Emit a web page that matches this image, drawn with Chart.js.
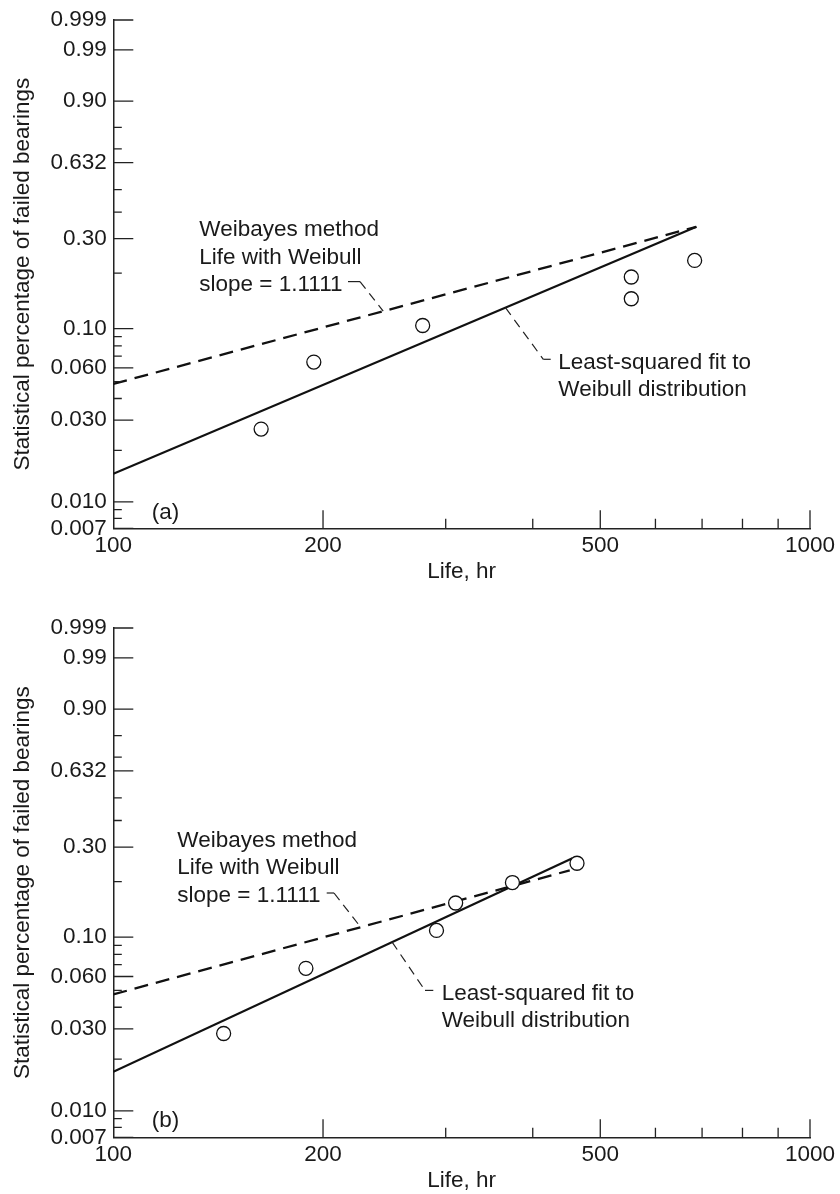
<!DOCTYPE html>
<html>
<head>
<meta charset="utf-8">
<script src="https://cdn.jsdelivr.net/npm/chart.js@4.4.1/dist/chart.umd.min.js"></script>
<style>
html, body { margin: 0; padding: 0; background: #fff; overflow: hidden; }
.panel { position: absolute; left: 0; width: 840px; height: 600px; }
</style>
</head>
<body>
<div class="panel" style="top:0"><canvas id="chartA" width="840" height="600"></canvas></div>
<div class="panel" style="top:608px"><canvas id="chartB" width="840" height="600"></canvas></div>
<script>
// Weibull probability transform: ln(-ln(1 - F))
const W = f => Math.log(-Math.log(1 - f));

const yTickFrac = [0.007, 0.010, 0.030, 0.060, 0.10, 0.30, 0.632, 0.90, 0.99, 0.999];
const yTickLabels = ['0.007', '0.010', '0.030', '0.060', '0.10', '0.30', '0.632', '0.90', '0.99', '0.999'];
const yMinorFrac = [0.008, 0.009, 0.02, 0.04, 0.05, 0.07, 0.08, 0.09, 0.2, 0.4, 0.5, 0.7, 0.8];
const xTickLife = [100, 200, 500, 1000];
const xMinorLife = [300, 400, 600, 700, 800, 900];

// panel (a)
const lifeA = [163, 194, 278, 554, 554, 683];
const failA = [0.0266, 0.0647, 0.104, 0.191, 0.146, 0.233];
const weibayesLifeA = [100, 687];
const weibayesFailA = [0.0485, 0.342];
const lsqLifeA = [100, 687];
const lsqFailA = [0.0146, 0.342];

// panel (b)
const lifeB = [144, 189, 291, 310, 374, 463];
const failB = [0.0282, 0.0668, 0.109, 0.154, 0.198, 0.249];
const weibayesLifeB = [100, 452];
const weibayesFailB = [0.0474, 0.229];
const lsqLifeB = [100, 456];
const lsqFailB = [0.0169, 0.264];

const FONT = '"Liberation Sans", Arial, Helvetica, sans-serif';
const INK = '#1a1a1a';
const AXIS = '#222';

// y (transformed) of a straight fit line at a given life
function lineAt(life, fail, v) {
    const t = (Math.log(v) - Math.log(life[0])) / (Math.log(life[1]) - Math.log(life[0]));
    return W(fail[0]) + t * (W(fail[1]) - W(fail[0]));
}

const decor = {
    id: 'decor',
    afterDraw(chart, args, opts) {
        const { ctx, chartArea: { left, top, bottom }, scales: { x, y } } = chart;
        ctx.save();

        // inward tick marks
        ctx.strokeStyle = AXIS;
        ctx.lineWidth = 1.3;
        ctx.beginPath();
        yTickFrac.forEach(f => {
            const py = y.getPixelForValue(W(f));
            ctx.moveTo(left, py); ctx.lineTo(left + 20, py);
        });
        yMinorFrac.forEach(f => {
            const py = y.getPixelForValue(W(f));
            ctx.moveTo(left, py); ctx.lineTo(left + 8.5, py);
        });
        xTickLife.slice(1).forEach(v => {
            const px = x.getPixelForValue(v);
            ctx.moveTo(px, bottom); ctx.lineTo(px, bottom - 18);
        });
        xMinorLife.forEach(v => {
            const px = x.getPixelForValue(v);
            ctx.moveTo(px, bottom); ctx.lineTo(px, bottom - 9.5);
        });
        ctx.stroke();

        // texts
        ctx.fillStyle = INK;
        ctx.font = '22.5px ' + FONT;
        ctx.textAlign = 'left';
        ctx.textBaseline = 'middle';
        ctx.fillText(opts.panel, left + 38.4, top + 492.6);

        const wb = opts.notes.weibayes;
        const ls = opts.notes.lsq;
        ctx.textBaseline = 'alphabetic';
        ['Weibayes method', 'Life with Weibull', 'slope = 1.1111'].forEach((s, i) => {
            ctx.fillText(s, left + wb.x, top + wb.y + i * 27.6);
        });
        ['Least-squared fit to', 'Weibull distribution'].forEach((s, i) => {
            ctx.fillText(s, left + ls.x, top + ls.y + i * 26.7);
        });

        // leader lines
        ctx.lineWidth = 1.2;
        const wbX = x.getPixelForValue(wb.at);
        const wbY = y.getPixelForValue(lineAt(opts.weibayesLine[0], opts.weibayesLine[1], wb.at));
        ctx.setLineDash([]);
        ctx.beginPath();
        ctx.moveTo(left + wb.hook[0], top + wb.hook[2]);
        ctx.lineTo(left + wb.hook[1], top + wb.hook[2]);
        ctx.stroke();
        ctx.setLineDash([9, 6]);
        ctx.beginPath();
        ctx.moveTo(left + wb.hook[1], top + wb.hook[2]);
        ctx.lineTo(wbX, wbY);
        ctx.stroke();

        const lsX = x.getPixelForValue(ls.at);
        const lsY = y.getPixelForValue(lineAt(opts.lsqLine[0], opts.lsqLine[1], ls.at));
        ctx.beginPath();
        ctx.moveTo(lsX, lsY);
        ctx.lineTo(left + ls.knee[0], top + ls.knee[1]);
        ctx.stroke();
        ctx.setLineDash([]);
        ctx.beginPath();
        ctx.moveTo(left + ls.knee[0], top + ls.knee[1]);
        ctx.lineTo(left + ls.end, top + ls.knee[1]);
        ctx.stroke();

        ctx.restore();
    }
};

function makeChart(id, panel, life, fail, wbLife, wbFail, lsLife, lsFail, notes, frame) {
    const font = { family: FONT, size: 22.5 };
    return new Chart(document.getElementById(id), {
        type: 'scatter',
        data: {
            datasets: [{
                label: 'Failed bearings',
                data: life.map((v, i) => ({ x: v, y: W(fail[i]) })),
                showLine: false,
                pointRadius: 7,
                pointHoverRadius: 7,
                pointBorderWidth: 1.3,
                pointBackgroundColor: '#fff',
                pointBorderColor: '#111'
            }, {
                label: 'Weibayes method',
                data: wbLife.map((v, i) => ({ x: v, y: W(wbFail[i]) })),
                showLine: true,
                borderColor: '#111',
                borderWidth: 2.3,
                borderDash: [14, 8],
                pointRadius: 0
            }, {
                label: 'Least-squared fit',
                data: lsLife.map((v, i) => ({ x: v, y: W(lsFail[i]) })),
                showLine: true,
                borderColor: '#111',
                borderWidth: 2.3,
                pointRadius: 0
            }]
        },
        options: {
            responsive: false,
            animation: false,
            layout: { padding: { top: frame.top, right: 30, bottom: 0, left: 0 } },
            scales: {
                x: {
                    type: 'logarithmic',
                    min: 100,
                    max: 1000,
                    afterBuildTicks: s => { s.ticks = xTickLife.map(v => ({ value: v })); },
                    afterFit: s => { s.height = frame.xAxisHeight; },
                    ticks: { callback: v => String(v), autoSkip: false, maxRotation: 0, padding: 4, color: INK, font },
                    grid: { display: false, drawTicks: false },
                    border: { display: true, color: AXIS, width: 1.5 },
                    title: { display: true, text: 'Life, hr', color: INK, font, padding: { top: 0, bottom: frame.titlePad } }
                },
                y: {
                    type: 'linear',
                    min: W(0.007),
                    max: W(0.999),
                    afterBuildTicks: s => { s.ticks = yTickFrac.map(f => ({ value: W(f) })); },
                    afterFit: s => { s.width = 113.3; },
                    ticks: { callback: (v, i) => yTickLabels[i], autoSkip: false, padding: 6.5, color: INK, font },
                    grid: { display: false, drawTicks: false },
                    border: { display: true, color: AXIS, width: 1.5 },
                    title: { display: true, text: 'Statistical percentage of failed bearings', color: INK, font, padding: { top: 9.5, bottom: 0 } }
                }
            },
            plugins: {
                legend: { display: false },
                tooltip: { enabled: false },
                decor: {
                    panel: panel,
                    notes: notes,
                    weibayesLine: [wbLife, wbFail],
                    lsqLine: [lsLife, lsFail]
                }
            }
        },
        plugins: [decor]
    });
}

makeChart('chartA', '(a)', lifeA, failA, weibayesLifeA, weibayesFailA, lsqLifeA, lsqFailA, {
    weibayes: { x: 86, y: 216, hook: [234.7, 246.7, 261.6], at: 244 },
    lsq: { x: 445, y: 349.3, knee: [430, 339.3], end: 437.4, at: 365.5 }
}, { top: 15.7, xAxisHeight: 71.7, titlePad: 14.5 });

makeChart('chartB', '(b)', lifeB, failB, weibayesLifeB, weibayesFailB, lsqLifeB, lsqFailB, {
    weibayes: { x: 64, y: 218.7, hook: [213.4, 220.7, 265], at: 226.5 },
    lsq: { x: 328.4, y: 372.4, knee: [311.7, 362.4], end: 320, at: 251.3 }
}, { top: 16.3, xAxisHeight: 70.7, titlePad: 13.5 });
</script>
</body>
</html>
